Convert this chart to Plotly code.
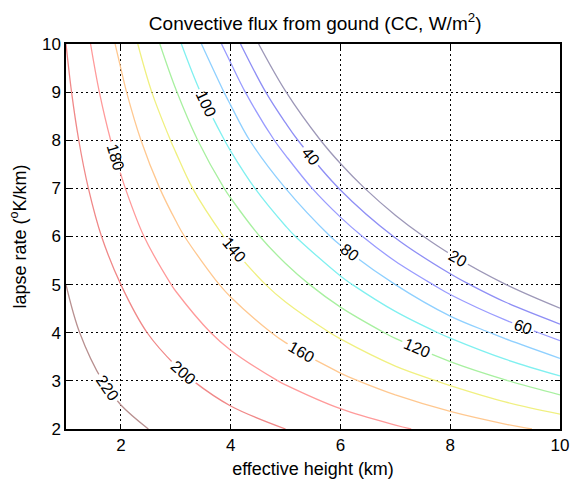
import plotly.graph_objects as go

effective_height = [1, 2, 3, 4, 5, 6, 7, 8, 9, 10]          # km (x)
lapse_rate = [2, 3, 4, 5, 6, 7, 8, 9, 10]                   # K/km (y)

# Convective flux (W/m^2) estimated at each (lapse rate, height) node
flux_lr2 = [232, 224, 216, 208, 200, 191.3, 182.6, 173.6, 164.5, 155.3]
flux_lr3 = [228, 216, 204, 191.3, 178.2, 164.5, 150.7, 136.4, 121.0, 105.6]
flux_lr4 = [224, 208, 191.3, 173.6, 155.3, 136.4, 115.9, 95.4, 74.3, 50.9]
flux_lr5 = [220, 200, 178.2, 155.3, 131.3, 105.6, 80, 50.9, 20.6, -9.7]
flux_lr6 = [216, 191.3, 164.5, 136.4, 105.6, 74.3, 38.8, 2.4, -33.9, -70.3]
flux_lr7 = [212, 182.6, 150.7, 115.9, 80, 38.8, -3.6, -46.1, -88.5, -130.9]
flux_lr8 = [208, 173.6, 136.4, 95.4, 50.9, 2.4, -46.1, -94.6, -143.1, -191.5]
flux_lr9 = [204, 164.5, 121.0, 74.3, 20.6, -33.9, -88.5, -143.1, -197.6, -252.1]
flux_lr10 = [200, 155.3, 105.6, 50.9, -9.7, -70.3, -130.9, -191.5, -252.1, -312.7]
flux = [flux_lr2, flux_lr3, flux_lr4, flux_lr5, flux_lr6, flux_lr7,
        flux_lr8, flux_lr9, flux_lr10]

levels = [20, 40, 60, 80, 100, 120, 140, 160, 180, 200, 220]
level_colors = ['#9d98b8', '#8f8ff5', '#9a9cff', '#8fd0ff', '#80f0f0', '#a8f0a0',
                '#f0f080', '#ffc890', '#ff9a9a', '#f08888', '#b89090']

x_ticks = [2, 4, 6, 8, 10]
y_ticks = [2, 3, 4, 5, 6, 7, 8, 9, 10]

n = len(levels)
colorscale = [[i / (n - 1), c] for i, c in enumerate(level_colors)]

fig = go.Figure(go.Contour(
    x=effective_height, y=lapse_rate, z=flux,
    contours=dict(start=levels[0], end=levels[-1], size=levels[1] - levels[0],
                  coloring='lines', showlabels=True,
                  labelfont=dict(size=16, color='black', family='Liberation Sans')),
    colorscale=colorscale, zmin=levels[0], zmax=levels[-1],
    line=dict(width=1.3, smoothing=1.0),
    showscale=False, hoverinfo='skip'))

font_family = 'Liberation Sans, Arial, sans-serif'
axis_common = dict(showline=True, linecolor='black', linewidth=1.5, mirror='ticks',
                   ticks='inside', ticklen=5, tickcolor='black', automargin=False,
                   showgrid=True, gridcolor='black', griddash='2px,3px', gridwidth=1.2,
                   zeroline=False, tickfont=dict(size=17, color='black'),
                   title_font=dict(size=18, color='black'))

fig.update_layout(
    width=573, height=482,
    margin=dict(l=66, r=13, t=44, b=53),
    paper_bgcolor='white', plot_bgcolor='white',
    font=dict(family=font_family, color='black'),
    title=dict(text='Convective flux from gound (CC, W/m<sup>2</sup>)',
               x=0.55, xanchor='center', y=0.952, yanchor='middle',
               font=dict(size=19, color='black')),
    xaxis=dict(range=[1, 10], tickvals=x_ticks, title=dict(text='effective height (km)', standoff=8),
               **axis_common),
    yaxis=dict(range=[2, 10], tickvals=y_ticks, title=dict(text='lapse rate (<sup>o</sup>K/km)', standoff=11),
               **axis_common),
    showlegend=False,
)

fig.write_html('out.html')
